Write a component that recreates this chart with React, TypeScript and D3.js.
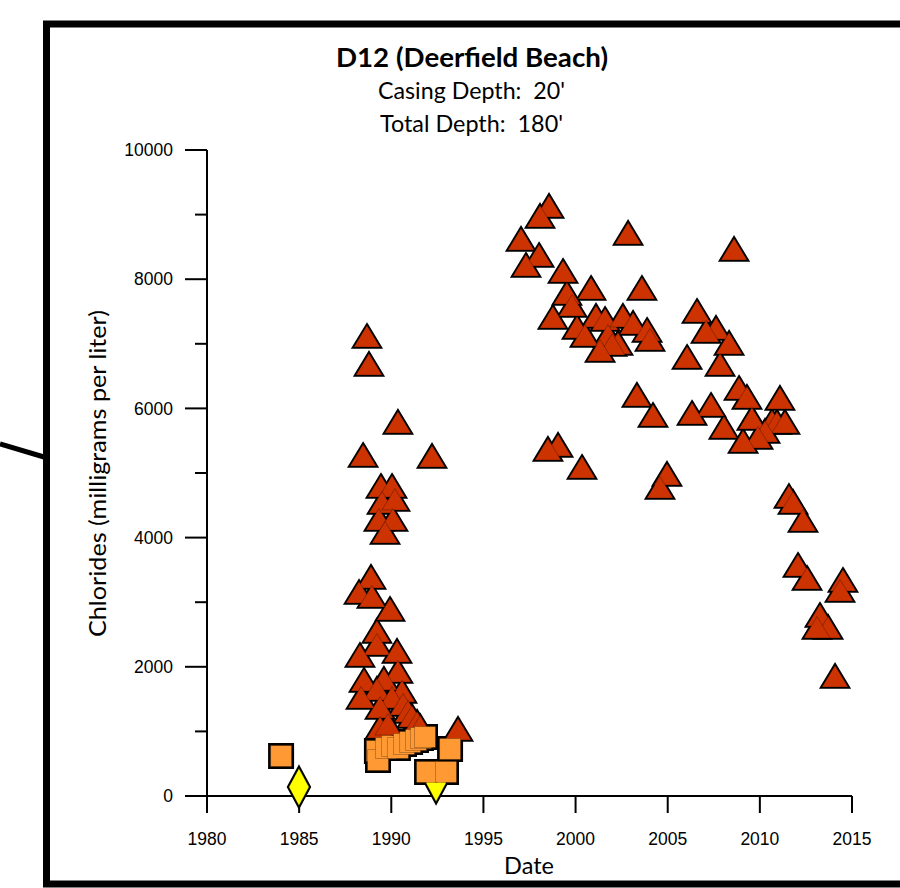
import React from 'react';
import * as d3 from 'd3';

// Chloride samples, well D12 (Deerfield Beach)
const triangleDates = [
  1988.68, 1988.79, 1988.47, 1990.36, 1992.21, 1989.44, 1990.04, 1989.5, 1990.2, 1989.33,
  1990.09, 1989.66, 1988.9, 1988.25, 1988.95, 1989.93, 1989.22, 1989.22, 1988.3, 1990.31,
  1990.36, 1988.52, 1989.6, 1989.22, 1990.58, 1988.36, 1990.04, 1989.39, 1990.64, 1990.91,
  1991.12, 1991.4, 1989.39, 1989.82, 1991.56, 1993.62,
  1998.56, 1998.07, 2002.85, 1997.04, 1998.02, 1997.31, 1999.32, 2000.84, 2003.6, 1999.53,
  1999.81, 1998.77, 2001.11, 2001.6, 2002.57, 2003.12, 2000.08, 2003.88, 2000.51, 2001.76,
  2004.04, 2002.3, 2001.98, 2001.33, 2003.33, 2004.2, 1999.05, 1998.5, 2000.35, 2004.96,
  2004.58, 2008.6, 2006.59, 2007.62, 2007.08, 2008.33, 2006.05, 2007.84, 2008.87, 2009.3,
  2011.09, 2007.35, 2006.32, 2009.57, 2010.66, 2010.93, 2011.36, 2008.05, 2010.28, 2009.9,
  2009.09, 2011.58, 2011.8, 2012.34, 2012.07, 2012.56, 2014.51, 2014.35, 2013.26, 2013.7,
  2013.1, 2014.08,
];
const triangleValues = [
  7105, 6672, 5263, 5774, 5248, 4783, 4783, 4536, 4582, 4272,
  4272, 4071, 3375, 3142, 3080, 2879, 2539, 2337, 2167, 2229,
  1920, 1780, 1796, 1641, 1610, 1517, 1517, 1362, 1409, 1300,
  1223, 1130, 1053, 1099, 1068, 1022,
  9118, 8963, 8700, 8607, 8359, 8204, 8111, 7848, 7848, 7771,
  7585, 7399, 7415, 7368, 7415, 7307, 7245, 7198, 7121, 7121,
  7059, 6997, 6981, 6889, 6192, 5882, 5418, 5356, 5077, 4969,
  4768, 8452, 7492, 7229, 7183, 6997, 6780, 6672, 6300, 6161,
  6146, 6037, 5913, 5836, 5789, 5774, 5774, 5697, 5635, 5542,
  5480, 4628, 4536, 4257, 3560, 3359, 3328, 3173, 2786, 2601,
  2601, 1842,
];

const squareDates = [
  1984.02, 1989.22, 1989.28, 1989.71, 1990.04, 1990.36, 1990.69, 1991.02, 1991.34, 1991.61,
  1991.83, 1993.19, 1991.94, 1992.97,
];
const squareValues = [619, 697, 557, 743, 774, 743, 805, 836, 867, 898, 913, 728, 372, 372];

const diamondDates = [1984.99, 1992.43];
const diamondValues = [139, 201];

const xTicks = [1980, 1985, 1990, 1995, 2000, 2005, 2010, 2015];
const yTicks = [0, 1000, 2000, 3000, 4000, 5000, 6000, 7000, 8000, 9000, 10000];

const TRI = 'M0,-11.5L13,10L-13,10Z';
const SQ = 'M-10.5,-10.5H10.5V10.5H-10.5Z';
const DIA = 'M0,-18.5L10,0L0,18.5L-10,0Z';

export default function App() {
  const x = d3.scaleLinear().domain([1980, 2015]).range([207, 852]);
  const y = d3.scaleLinear().domain([0, 10000]).range([796, 150]);

  const tris = triangleDates.map((d, i) => [x(d), y(triangleValues[i])]);
  const sqs = squareDates.map((d, i) => [x(d), y(squareValues[i])]);
  const dias = diamondDates.map((d, i) => [x(d), y(diamondValues[i])]);

  const sans = 'Lato, "Open Sans", sans-serif';
  const arial = '"Liberation Sans", Arial, sans-serif';

  return (
    <svg width={900} height={888} style={{ position: 'absolute', left: 0, top: 0, background: '#fff' }}>
      {/* frame */}
      <rect x={46.5} y={24} width={900} height={860} fill="none" stroke="#000" strokeWidth={7} />
      <line x1={0} y1={444} x2={44} y2={457} stroke="#000" strokeWidth={5} />

      {/* titles */}
      <text x={336} y={67} fontFamily={sans} fontWeight="bold" fontSize={27} textLength={272} lengthAdjust="spacingAndGlyphs">
        D12 (Deerfield Beach)
      </text>
      <text x={378} y={99} fontFamily={sans} fontSize={23} textLength={187} lengthAdjust="spacingAndGlyphs">
        {'Casing Depth:\u00a0\u00a020\''}
      </text>
      <text x={380} y={132} fontFamily={sans} fontSize={23} textLength={183} lengthAdjust="spacingAndGlyphs">
        {'Total Depth:\u00a0\u00a0180\''}
      </text>

      {/* axes */}
      <line x1={207} y1={150} x2={207} y2={796} stroke="#000" strokeWidth={2} />
      <line x1={207} y1={796} x2={852} y2={796} stroke="#000" strokeWidth={2} />
      {yTicks.map(t => (
        <g key={t}>
          <line
            x1={t % 2000 === 0 ? 185 : 195}
            x2={207}
            y1={y(t)}
            y2={y(t)}
            stroke="#000"
            strokeWidth={2}
          />
          {t % 2000 === 0 && (
            <text x={173} y={y(t)} dy="0.35em" textAnchor="end" fontFamily={arial} fontSize={17.5}>
              {t}
            </text>
          )}
        </g>
      ))}
      {xTicks.map(t => (
        <g key={t}>
          <line x1={x(t)} x2={x(t)} y1={796} y2={813} stroke="#000" strokeWidth={2} />
          <text x={x(t)} y={839} dy="0.35em" textAnchor="middle" fontFamily={arial} fontSize={17.5}>
            {t}
          </text>
        </g>
      ))}
      <text x={529} y={874} textAnchor="middle" fontFamily={sans} fontSize={23.5}>
        Date
      </text>
      <text
        transform="translate(106,637) rotate(-90)"
        fontFamily={sans}
        fontSize={24}
        textLength={327}
        lengthAdjust="spacingAndGlyphs"
      >
        Chlorides (milligrams per liter)
      </text>

      {/* outline pass */}
      <g stroke="#000" strokeLinejoin="miter" fill="#000">
        {tris.map(([cx, cy], i) => (
          <path key={'to' + i} d={TRI} transform={`translate(${cx},${cy})`} strokeWidth={3.5} />
        ))}
        {dias.map(([cx, cy], i) => (
          <path key={'do' + i} d={DIA} transform={`translate(${cx},${cy})`} strokeWidth={4} />
        ))}
        {sqs.map(([cx, cy], i) => (
          <path key={'so' + i} d={SQ} transform={`translate(${cx},${cy})`} strokeWidth={5} />
        ))}
      </g>
      {/* fill pass */}
      <g strokeLinejoin="miter">
        {tris.map(([cx, cy], i) => (
          <path key={'tf' + i} d={TRI} transform={`translate(${cx},${cy})`} fill="#CC3300" stroke="rgba(0,0,0,0.35)" strokeWidth={0.8} />
        ))}
        {dias.map(([cx, cy], i) => (
          <path key={'df' + i} d={DIA} transform={`translate(${cx},${cy})`} fill="#FFFF00" stroke="rgba(0,0,0,0.3)" strokeWidth={0.8} />
        ))}
        {sqs.map(([cx, cy], i) => (
          <path key={'sf' + i} d={SQ} transform={`translate(${cx},${cy})`} fill="#FF9933" stroke="rgba(0,0,0,0.3)" strokeWidth={0.8} />
        ))}
      </g>
    </svg>
  );
}
